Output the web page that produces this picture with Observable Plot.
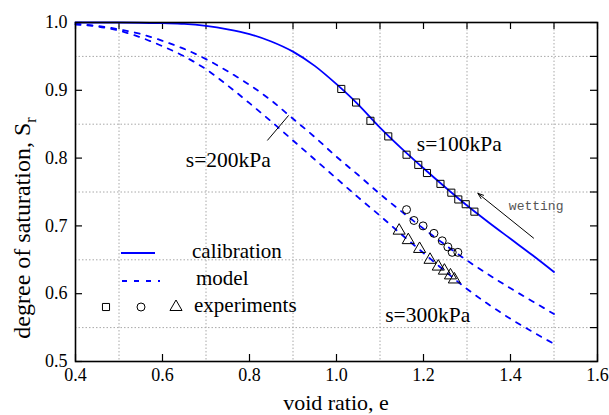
<!DOCTYPE html>
<html><head><meta charset="utf-8">
<script src="https://cdn.jsdelivr.net/npm/d3@7"></script>
<script src="https://cdn.jsdelivr.net/npm/@observablehq/plot@0.6"></script>
<style>
html,body{margin:0;padding:0;background:#fff;}
#chart{position:relative;width:609px;height:415px;}
</style></head><body><div id="chart"></div>
<script>
// ---- data ----
const calE  = [0.40,0.50,0.60,0.65,0.70,0.75,0.80,0.85,0.90,0.95,1.00,1.05,1.10,1.15,1.20,1.25,1.30,1.35,1.40,1.45,1.50];
const calSr = [1.000,1.000,0.999,0.998,0.995,0.990,0.983,0.972,0.957,0.936,0.909,0.879,0.845,0.814,0.785,0.757,0.730,0.705,0.681,0.657,0.632];

const m200E  = [0.40,0.45,0.50,0.55,0.60,0.65,0.70,0.75,0.80,0.85,0.90,0.95,1.00,1.05,1.10,1.15,1.20,1.25,1.30,1.35,1.40,1.45,1.50];
const m200Sr = [0.998,0.995,0.990,0.983,0.973,0.961,0.946,0.928,0.908,0.885,0.858,0.831,0.802,0.775,0.747,0.721,0.696,0.672,0.649,0.628,0.608,0.589,0.570];

const m300E  = [0.40,0.45,0.50,0.55,0.60,0.65,0.70,0.75,0.80,0.85,0.90,0.95,1.00,1.05,1.10,1.15,1.20,1.25,1.30,1.35,1.40,1.45,1.50];
const m300Sr = [0.997,0.994,0.988,0.978,0.965,0.950,0.931,0.907,0.881,0.854,0.826,0.798,0.770,0.742,0.715,0.687,0.660,0.633,0.607,0.584,0.563,0.544,0.526];

const exp100E  = [1.011,1.045,1.078,1.119,1.161,1.188,1.208,1.239,1.264,1.280,1.297,1.317];
const exp100Sr = [0.902,0.882,0.855,0.832,0.805,0.790,0.778,0.762,0.749,0.739,0.732,0.721];
const exp200E  = [1.161,1.178,1.199,1.224,1.243,1.256,1.266,1.279];
const exp200Sr = [0.724,0.708,0.700,0.689,0.678,0.669,0.661,0.661];
const exp300E  = [1.144,1.165,1.191,1.215,1.234,1.248,1.262,1.271];
const exp300Sr = [0.693,0.679,0.666,0.650,0.640,0.634,0.627,0.621];

const xTicks = [0.4,0.6,0.8,1.0,1.2,1.4,1.6];
const xTickLabels = ["0.4","0.6","0.8","1.0","1.2","1.4","1.6"];
const yTicks = [0.5,0.6,0.7,0.8,0.9,1.0];
const yTickLabels = ["0.5","0.6","0.7","0.8","0.9","1.0"];
const xGrid = [0.5,0.7,0.9,1.1,1.3,1.5];
const yGrid = [0.55,0.65,0.75,0.85,0.95];
const xMinor = [0.4,0.5,0.6,0.7,0.8,0.9,1.0,1.1,1.2,1.3,1.4,1.5,1.6];
const yMinor = [0.5,0.55,0.6,0.65,0.7,0.75,0.8,0.85,0.9,0.95,1.0];

const annLabels = ["s=100kPa","s=200kPa","s=300kPa"];
const annE  = [1.380,0.849,1.112];
const annSr = [0.811,0.787,0.558];
const annAnchor = ["end","end","start"];
const leader = {e1:0.841, sr1:0.826, e2:0.890, sr2:0.863};
const wetArrow = {e1:1.453, sr1:0.682, e2:1.325, sr2:0.748};
const wetLabel = {text:"wetting", e:1.459, sr:0.724};

const legendLabels = ["calibration","model","experiments"];

// ---- build tables ----
const zip = (E,S) => E.map((e,i)=>({e, sr:S[i]}));
const cal = zip(calE,calSr), m200 = zip(m200E,m200Sr), m300 = zip(m300E,m300Sr);
const e100 = zip(exp100E,exp100Sr), e200 = zip(exp200E,exp200Sr), e300 = zip(exp300E,exp300Sr);
const ann = annLabels.map((t,i)=>({t, e:annE[i], sr:annSr[i], a:annAnchor[i]}));

const W=609, H=415, mL=75, mR=12, mT=22, mB=54;
const innerW = W-mL-mR, innerH = H-mT-mB;
const blue = "#0000ff";
const TL = 7;
const dash = "5,7";

const plot = Plot.plot({
  width: W, height: H,
  marginLeft: mL, marginRight: mR, marginTop: mT, marginBottom: mB,
  style: {fontFamily: "'Liberation Serif', 'Times New Roman', serif", background: "#fff", color: "#000", overflow: "visible"},
  x: {domain: [0.4, 1.6]},
  y: {domain: [0.5, 1.0]},
  marks: [
    Plot.gridX(xGrid, {stroke: "#a8a8a8", strokeOpacity: 1, strokeDasharray: "1.5,2", strokeWidth: 1}),
    Plot.gridY(yGrid, {stroke: "#a8a8a8", strokeOpacity: 1, strokeDasharray: "1.5,2", strokeWidth: 1}),
    Plot.axisX(xTicks, {tickSize: 0, tickPadding: 7, fontSize: 18, label: null,
      tickFormat: d => xTickLabels[xTicks.indexOf(d)]}),
    Plot.axisY(yTicks, {tickSize: 0, tickPadding: 8, fontSize: 18, label: null,
      tickFormat: d => yTickLabels[yTicks.indexOf(d)]}),
    Plot.tickX(xTicks, {x: d => d, insetTop: innerH - TL, stroke: "#000", strokeWidth: 1.2}),
    Plot.tickX(xMinor, {x: d => d, insetBottom: innerH - TL, stroke: "#000", strokeWidth: 1.2}),
    Plot.tickY(yTicks, {y: d => d, insetRight: innerW - TL, stroke: "#000", strokeWidth: 1.2}),
    Plot.tickY(yMinor, {y: d => d, insetLeft: innerW - TL, stroke: "#000", strokeWidth: 1.2}),
    Plot.line(cal, {x: "e", y: "sr", stroke: blue, strokeWidth: 1.8, curve: "monotone-x"}),
    Plot.line(m200, {x: "e", y: "sr", stroke: blue, strokeWidth: 1.8, strokeDasharray: dash, curve: "monotone-x"}),
    Plot.line(m300, {x: "e", y: "sr", stroke: blue, strokeWidth: 1.8, strokeDasharray: dash, curve: "monotone-x"}),
    Plot.dot(e100, {x: "e", y: "sr", symbol: "square", r: 4, stroke: "#000", fill: "none", strokeWidth: 1}),
    Plot.dot(e200, {x: "e", y: "sr", symbol: "circle", r: 4, stroke: "#000", fill: "none", strokeWidth: 1}),
    Plot.dot(e300, {x: "e", y: "sr", symbol: "triangle", r: 4.5, stroke: "#000", fill: "none", strokeWidth: 1}),
    Plot.text(ann.filter(d => d.a === "end"), {x: "e", y: "sr", text: "t", textAnchor: "end", lineAnchor: "bottom", fontSize: 21.5, fill: "#000"}),
    Plot.text(ann.filter(d => d.a === "start"), {x: "e", y: "sr", text: "t", textAnchor: "start", lineAnchor: "bottom", fontSize: 21.5, fill: "#000"}),
    Plot.link([leader], {x1: "e1", y1: "sr1", x2: "e2", y2: "sr2", stroke: "#000", strokeWidth: 1}),
    Plot.arrow([wetArrow], {x1: "e1", y1: "sr1", x2: "e2", y2: "sr2", stroke: "#000", strokeWidth: 1, headLength: 9, headAngle: 40}),
    Plot.text([wetLabel], {x: "e", y: "sr", text: "text", textAnchor: "middle", lineAnchor: "bottom",
      fontFamily: "'Liberation Mono', monospace", fontSize: 13, fill: "#555"}),
    Plot.frame({stroke: "#000", strokeWidth: 1.6})
  ]
});
document.getElementById("chart").appendChild(plot);

// ---- titles & legend (outside data marks) ----
const svg = d3.select(plot);
const serif = "'Liberation Serif', 'Times New Roman', serif";
svg.append("text").attr("x", mL + innerW/2).attr("y", 410)
  .attr("text-anchor", "middle").attr("font-family", serif).attr("font-size", 22).attr("fill", "#000")
  .text("void ratio, e");
const yt = svg.append("text").attr("transform", `translate(30,228) rotate(-90)`)
  .attr("text-anchor", "middle").attr("font-family", serif).attr("font-size", 24).attr("fill", "#000");
yt.append("tspan").text("degree of saturation, S");
yt.append("tspan").attr("font-size", 16).attr("dy", 6).text("r");

const lg = svg.append("g").attr("font-family", serif).attr("font-size", 21).attr("fill", "#000").attr("text-anchor", "start");
lg.append("line").attr("x1", 121).attr("x2", 155).attr("y1", 253).attr("y2", 253).attr("stroke", blue).attr("stroke-width", 1.8);
lg.append("line").attr("x1", 122).attr("x2", 160).attr("y1", 281).attr("y2", 281).attr("stroke", blue).attr("stroke-width", 1.8).attr("stroke-dasharray", dash);
const sym = (type, r) => d3.symbol().type(type).size(Math.PI * r * r)();
[[d3.symbolSquare, 106, 4], [d3.symbolCircle, 141, 4], [d3.symbolTriangle, 176, 4.5]].forEach(([t, x, r]) => {
  lg.append("path").attr("d", sym(t, r)).attr("transform", `translate(${x},307)`)
    .attr("fill", "none").attr("stroke", "#000").attr("stroke-width", 1);
});
lg.append("text").attr("x", 192).attr("y", 258).attr("text-anchor", "start").text(legendLabels[0]);
lg.append("text").attr("x", 196).attr("y", 285).attr("text-anchor", "start").text(legendLabels[1]);
lg.append("text").attr("x", 194).attr("y", 312).attr("text-anchor", "start").text(legendLabels[2]);
</script>
</body></html>
